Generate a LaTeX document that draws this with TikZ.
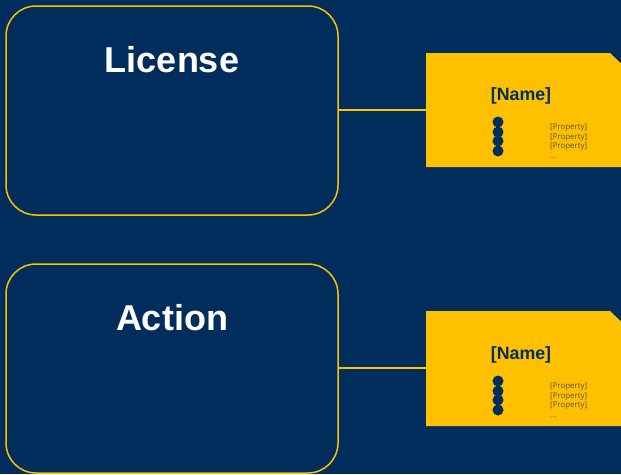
\documentclass[tikz,border=0pt]{standalone}
\usepackage{fontspec}
\setmainfont{Liberation Sans}
\newfontfamily\propfont{Open Sans}
\definecolor{navy}{HTML}{002D5C}
\definecolor{gold}{HTML}{FFC000}
\definecolor{propgray}{HTML}{5A5640}
\tikzset{
  bigbox/.style={draw=gold, line width=1.5pt, rounded corners=30pt, fill=navy},
  titletext/.style={text=white, font=\bfseries\fontsize{36}{40}\selectfont, anchor=base},
  card/.style={fill=gold, draw=none},
  nametext/.style={text=navy, font=\bfseries\fontsize{17.8}{20}\selectfont, anchor=base},
  proptext/.style={text=propgray, font=\propfont\fontsize{7.9}{9.7}\selectfont, anchor=north west, align=left, inner sep=0pt},
  dot/.style={circle, fill=navy, minimum size=11pt, inner sep=0pt},
  link/.style={draw=gold, line width=1.3pt}
}
\begin{document}
\begin{tikzpicture}[x=1pt,y=-1pt]
\fill[navy] (0,0) rectangle (621,474);
\useasboundingbox (0,0) rectangle (621,474);
\clip (0,0) rectangle (621,474);
% box 1
\draw[bigbox] (6,6) rectangle (338,215);
\node[titletext] (t1) at (172,72) {License};
\coordinate (b1) at (338,110);
% card 1
\fill[card] (426,53) -- (610,53) -- (630,72) -- (630,167) -- (426,167) -- cycle;
\coordinate (c1) at (426,110);
\draw[link] (b1) -- (c1);
\node[nametext] (n1) at (521,100) {[Name]};
\foreach \y [count=\i] in {122,132,141,151} \node[dot] (d1\i) at (498,\y) {};
\node[proptext] (p1) at (550,123.5) {[Property]\\{}[Property]\\{}[Property]\\...};
% box 2
\draw[bigbox] (6,264) rectangle (338,473);
\node[titletext] (t2) at (172,330) {Action};
\coordinate (b2) at (338,368);
% card 2
\fill[card] (426,311) -- (610,311) -- (630,330) -- (630,426) -- (426,426) -- cycle;
\coordinate (c2) at (426,368);
\draw[link] (b2) -- (c2);
\node[nametext] (n2) at (521,359) {[Name]};
\foreach \y [count=\i] in {381,391,400,410} \node[dot] (d2\i) at (498,\y) {};
\node[proptext] (p2) at (550,382.5) {[Property]\\{}[Property]\\{}[Property]\\...};
\end{tikzpicture}
\end{document}
